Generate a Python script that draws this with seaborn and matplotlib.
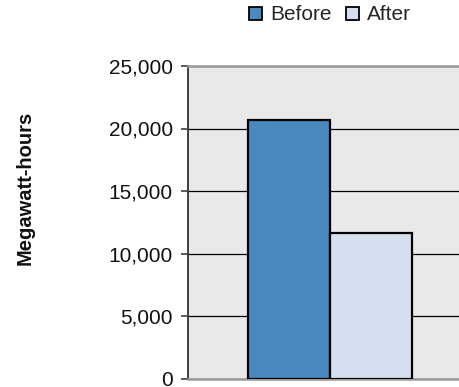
import matplotlib
matplotlib.use("Agg")
import matplotlib.pyplot as plt
from matplotlib.patches import Rectangle
from matplotlib.ticker import FuncFormatter
import pandas as pd
import seaborn as sns

# Annual electricity use, before and after the retrofit
periods = ["Before", "After"]
mwh = [20700, 11650]
colors = ["#4A89BF", "#D4E0F0"]
y_ticks = [0, 5000, 10000, 15000, 20000, 25000]

sns.set_theme(style="white")
plt.rcParams["font.family"] = ["Liberation Sans", "DejaVu Sans"]

df = pd.DataFrame({"group": ["" for _ in periods], "period": periods, "mwh": mwh})

fig = plt.figure(figsize=(4.59, 3.87), dpi=100)
ax = fig.add_axes([188 / 459, 8.5 / 387, 284 / 459, 312.5 / 387])
ax.set_facecolor("#E9E9E9")

sns.barplot(data=df, x="group", y="mwh", hue="period", hue_order=periods,
            palette=colors, width=0.578, dodge=True, saturation=1,
            edgecolor="black", linewidth=1.6, legend=False, ax=ax, zorder=3)

ax.set_xlim(-0.5, 0.5)
ax.set_ylim(0, 25000)
ax.set_yticks(y_ticks)
ax.yaxis.set_major_formatter(FuncFormatter(lambda v, _: f"{int(v):,}"))
ax.set_xticks([])
ax.set_xlabel("")
ax.set_ylabel("")

ax.set_axisbelow(True)
ax.yaxis.grid(True, color="black", linewidth=0.9)
ax.xaxis.grid(False)

for side in ["top", "bottom"]:
    ax.spines[side].set_color("#9A9A9A")
    ax.spines[side].set_linewidth(1.8)
ax.spines["left"].set_color("#404040")
ax.spines["left"].set_linewidth(1.4)
ax.spines["right"].set_visible(False)

ax.tick_params(axis="y", which="major", left=True, direction="out", length=5,
               width=1.2, color="#404040", labelsize=15, labelcolor="#111111",
               pad=6)

fig.text(25 / 459, 1 - 188 / 387, "Megawatt-hours", rotation=90,
         ha="center", va="center", fontsize=14.5, fontweight="bold",
         color="#111111")

handles = [Rectangle((0, 0), 1, 1, facecolor=c, edgecolor="black", linewidth=1.3)
           for c in colors]
fig.legend(handles, periods, loc="center", bbox_to_anchor=(330 / 459, 1 - 15 / 387),
           ncol=2, frameon=False, fontsize=15, handlelength=0.6,
           handleheight=0.6, handletextpad=0.4, columnspacing=0.7,
           borderpad=0, borderaxespad=0)

fig.savefig("out.png", dpi=100)
